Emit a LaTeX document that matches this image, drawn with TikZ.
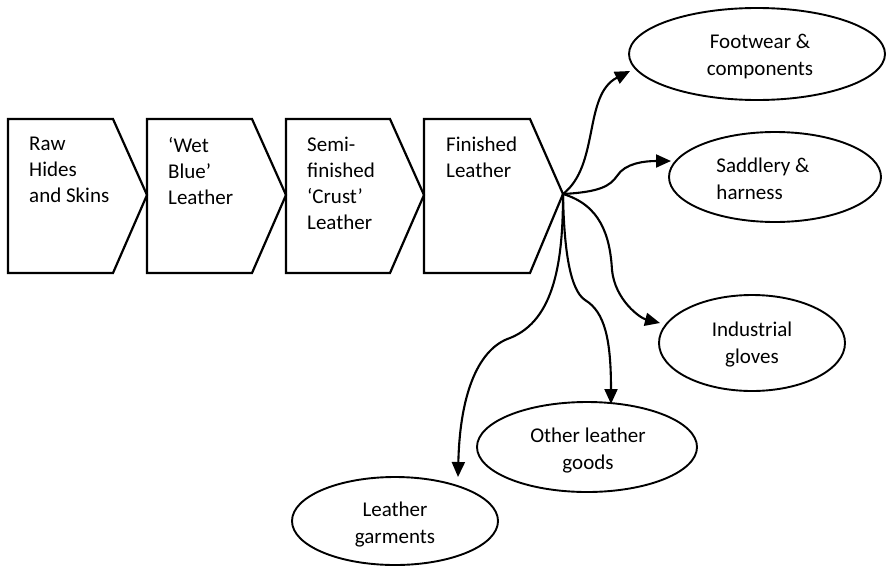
\documentclass[tikz,border=0pt]{standalone}
\usepackage{fontspec}
\setmainfont{Carlito}
\usetikzlibrary{shapes.geometric,arrows.meta}
\begin{document}
\begin{tikzpicture}[x=1pt,y=-1pt,
  chev/.style={draw,line width=2.2pt,line join=miter},
  lbl/.style={anchor=north west,align=left,inner sep=0pt,font=\fontsize{21}{26}\selectfont},
  oval/.style={draw,ellipse,line width=1.9pt,inner sep=0pt},
  ovtxt/.style={inner sep=0pt,align=center,font=\fontsize{21}{27}\selectfont},
  flow/.style={line width=2.1pt,-{Triangle[length=15pt,width=13pt]}}]
\useasboundingbox (0,0) rectangle (886,565);
% chevrons
\draw[chev] (8,119) -- (113,119) -- (147,195) -- (113,273) -- (8,273) -- cycle;
\draw[chev] (147,119) -- (252,119) -- (286,195) -- (252,273) -- (147,273) -- cycle;
\draw[chev] (286,119) -- (390,119) -- (424,195) -- (390,273) -- (286,273) -- cycle;
\draw[chev] (424,119) -- (530,119) -- (563,194) -- (530,273) -- (424,273) -- cycle;
\node[lbl] (raw) at (29,137) {Raw\\Hides\\and Skins};
\node[lbl] (wet) at (168,137) {‘Wet\\Blue’\\Leather};
\node[lbl] (semi) at (307,137) {Semi-\\finished\\‘Crust’\\Leather};
\node[lbl] (fin) at (446,137) {Finished\\Leather};
\coordinate (hub) at (563,194);
% ellipses
\node[oval,minimum width=256pt,minimum height=92pt] (foot) at (757,54) {};
\node[ovtxt] (foott) at (760,57) {Footwear \&\\components};
\node[oval,minimum width=212pt,minimum height=90pt] (sad) at (775,177) {};
\node[ovtxt,align=left] (sadt) at (763,179) {Saddlery \&\\harness};
\node[oval,minimum width=186pt,minimum height=96pt] (ind) at (752,343) {};
\node[ovtxt] (indt) at (752,345) {Industrial\\gloves};
\node[oval,minimum width=220pt,minimum height=90pt] (oth) at (587,447) {};
\node[ovtxt] (otht) at (588,451) {Other leather\\goods};
\node[oval,minimum width=206pt,minimum height=88pt] (gar) at (395,521) {};
\node[ovtxt] (gart) at (395,525) {Leather\\garments};
% arrow end points
\coordinate (tfoot) at (630,71);
\coordinate (tsad) at (671,161);
\coordinate (tind) at (660,323);
\coordinate (toth) at (611,404);
\coordinate (tgar) at (458,477);
% connectors
\draw[flow] (hub) .. controls (600,165) and (583,95) .. (tfoot);
\draw[flow] (hub) .. controls (600,192) and (610,186) .. (617,176) .. controls (625,163) and (645,161) .. (tsad);
\draw[flow] (hub) .. controls (600,205) and (610,235) .. (612,270) .. controls (615,300) and (640,318) .. (tind);
\draw[flow] (hub) .. controls (564,250) and (570,290) .. (585,300) .. controls (605,312) and (611,340) .. (toth);
\draw[flow] (hub) .. controls (563,260) and (555,320) .. (510,338) .. controls (480,348) and (460,390) .. (tgar);
\end{tikzpicture}
\end{document}
